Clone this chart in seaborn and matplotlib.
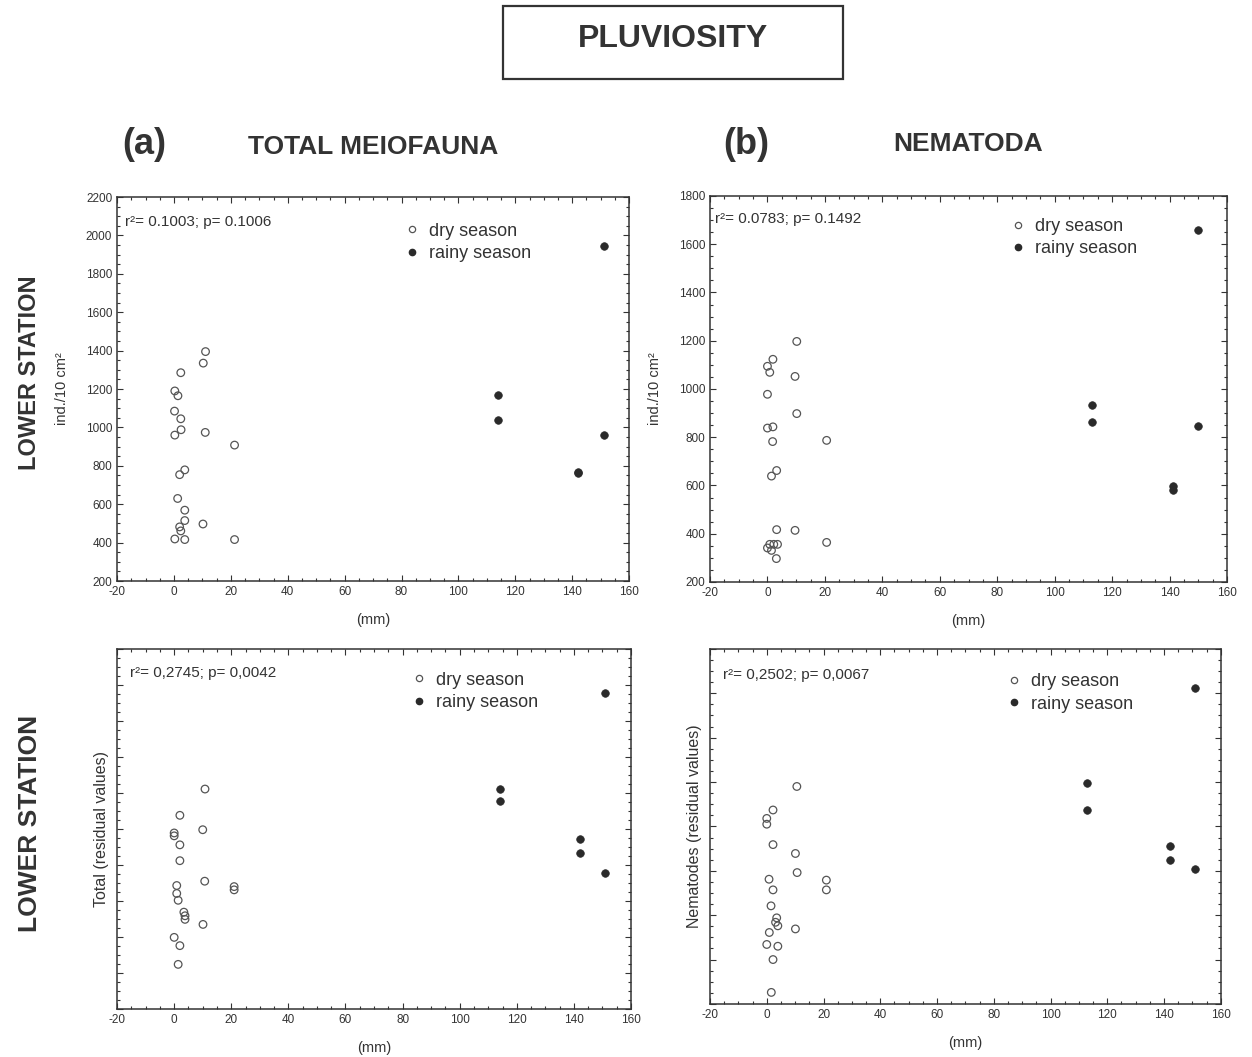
import numpy as np
import pandas as pd
import matplotlib
matplotlib.use("Agg")
import matplotlib.pyplot as plt
from matplotlib.lines import Line2D
from matplotlib.patches import Rectangle
from matplotlib.ticker import MultipleLocator, AutoMinorLocator
import seaborn as sns

# Data (x = rainfall in mm)
# (a) total meiofauna, lower station
tot_dry_x = [11.1, 10.3, 2.4, 0.3, 1.4, 0.2, 2.4, 2.5, 0.3, 11.0, 21.3,
             3.8, 2.0, 1.3, 3.8, 3.8, 2.0, 2.4, 10.2, 0.3, 3.8, 21.3]
tot_dry_y = [1395, 1335, 1285, 1190, 1165, 1085, 1045, 988, 960, 974, 908,
             779, 754, 630, 569, 515, 482, 461, 497, 419, 416, 416]
tot_rain_x = [151, 114, 114, 151, 142, 142]
tot_rain_y = [1945, 1170, 1037, 960, 766, 764]

# (b) nematoda, lower station
nem_dry_x = [10.2, 1.9, 0.0, 0.8, 9.6, 0.0, 10.2, 0.0, 1.9, 1.8, 20.6,
             3.2, 1.4, 3.2, 9.6, 20.6, 0.0, 0.8, 1.4, 2.2, 3.5, 3.1]
nem_dry_y = [1197, 1123, 1094, 1069, 1052, 978, 898, 838, 843, 782, 787,
             662, 639, 417, 414, 364, 341, 356, 331, 356, 356, 297]
nem_rain_x = [150, 113, 113, 150, 141, 141]
nem_rain_y = [1659, 934, 862, 847, 599, 580]

# residuals (no scale printed on the original)
totres_dry_x = [10.8, 2.0, 0.0, 0.0, 10.0, 2.0, 2.0, 0.9, 0.9, 1.4, 10.7,
                21.0, 21.0, 3.4, 3.8, 3.8, 10.1, 0.0, 2.0, 1.4]
totres_dry_y = [111, 38, -11, -19, -2, -44, -88, -157, -179, -198, -145,
                -160, -169, -231, -241, -251, -265, -301, -324, -376]
totres_rain_x = [151, 114, 114, 142, 142, 151]
totres_rain_y = [377, 110, 78, -27, -68, -122]

nemres_dry_x = [10.6, 2.2, 0.0, 0.0, 2.2, 10.1, 10.7, 0.8, 2.2, 21.0, 21.0,
                1.5, 3.5, 3.9, 3.1, 10.1, 0.9, 0.0, 3.9, 2.2, 1.6]
nemres_dry_y = [90, 37, 18, 5, -41, -61, -104, -119, -143, -121, -143,
                -179, -206, -224, -216, -231, -239, -266, -270, -300, -374]
nemres_rain_x = [151, 113, 113, 142, 142, 151]
nemres_rain_y = [312, 98, 37, -44, -76, -95]

stats = ["r²= 0.1003; p= 0.1006", "r²= 0.0783; p= 0.1492",
         "r²= 0,2745; p= 0,0042", "r²= 0,2502; p= 0,0067"]
ylabels = ["ind./10 cm²", "ind./10 cm²",
           "Total (residual values)", "Nematodes (residual values)"]

sns.set_style("ticks")
plt.rcParams['font.family'] = ['Liberation Sans', 'DejaVu Sans']
plt.rcParams['axes.unicode_minus'] = False
ink = '#333333'

fig = plt.figure(figsize=(12.52, 10.57), dpi=100)

positions = [
    [0.0935, 0.4503, 0.409, 0.3633],
    [0.5671, 0.4494, 0.413, 0.3652],
    [0.0935, 0.0454, 0.4105, 0.3406],
    [0.5671, 0.0502, 0.408, 0.3359],
]
panels = [
    (tot_dry_x, tot_dry_y, tot_rain_x, tot_rain_y),
    (nem_dry_x, nem_dry_y, nem_rain_x, nem_rain_y),
    (totres_dry_x, totres_dry_y, totres_rain_x, totres_rain_y),
    (nemres_dry_x, nemres_dry_y, nemres_rain_x, nemres_rain_y),
]
ylims = [(200, 2200), (200, 1800), (-500, 500), (-400, 400)]
stat_pos = [(0.016, 0.935), (0.01, 0.94), (0.025, 0.933), (0.025, 0.927)]
leg_pos = [(0.54, 0.952), (0.56, 0.962), (0.553, 0.957), (0.56, 0.952)]
ylab_pad = [12, 12, 2.5, 2.5]

for i, (pos, (dx, dy, rx, ry)) in enumerate(zip(positions, panels)):
    ax = fig.add_axes(pos)
    dry = pd.DataFrame({"mm": dx, "val": dy})
    rain = pd.DataFrame({"mm": rx, "val": ry})
    sns.scatterplot(data=dry, x="mm", y="val", ax=ax, s=30, marker="o",
                    facecolor="none", edgecolor="#555555", linewidth=0.9)
    sns.scatterplot(data=rain, x="mm", y="val", ax=ax, s=30, marker="o",
                    color="#2a2a2a", edgecolor="#2a2a2a", linewidth=0.5)
    ax.set_xlim(-20, 160)
    ax.set_ylim(*ylims[i])
    ax.xaxis.set_major_locator(MultipleLocator(20))
    ax.xaxis.set_minor_locator(AutoMinorLocator(4))
    ax.yaxis.set_major_locator(MultipleLocator(200 if i < 2 else 100))
    ax.yaxis.set_minor_locator(AutoMinorLocator(4))
    ax.tick_params(which="both", direction="in", top=True, right=True,
                   colors=ink, labelsize=8.5, width=0.8)
    ax.tick_params(which="major", length=4)
    ax.tick_params(which="minor", length=2)
    if i >= 2:
        ax.set_yticklabels([])
    for s in ax.spines.values():
        s.set_color(ink)
        s.set_linewidth(1.1)
    ax.set_xlabel("(mm)", fontsize=10.5, color=ink, labelpad=11)
    ax.set_ylabel(ylabels[i], fontsize=10.5 if i < 2 else 11.5, color=ink,
                  labelpad=ylab_pad[i])
    ax.text(stat_pos[i][0], stat_pos[i][1], stats[i], transform=ax.transAxes,
            fontsize=11, color=ink, va="center", ha="left")
    handles = [
        Line2D([], [], marker="o", ls="", markersize=4.5, markerfacecolor="none",
               markeredgecolor="#555555", markeredgewidth=0.9),
        Line2D([], [], marker="o", ls="", markersize=4.5, color="#2a2a2a"),
    ]
    ax.legend(handles, ["dry season", "rainy season"], loc="upper left",
              bbox_to_anchor=leg_pos[i], frameon=False, fontsize=13,
              handletextpad=0.35, labelspacing=0.3, borderaxespad=0,
              labelcolor=ink, handlelength=1.2)

# title box
fig.patches.append(Rectangle((503 / 1252, 1 - 79 / 1057), 340 / 1252, 73 / 1057,
                             transform=fig.transFigure, facecolor="white",
                             edgecolor=ink, linewidth=1.6))
fig.text(673 / 1252, 1 - 39 / 1057, "PLUVIOSITY", fontsize=23, fontweight="bold",
         color=ink, ha="center", va="center")

# headings
fig.text(144 / 1252, 1 - 145 / 1057, "(a)", fontsize=26, fontweight="bold",
         color=ink, ha="center", va="center")
fig.text(373 / 1252, 1 - 147 / 1057, "TOTAL MEIOFAUNA", fontsize=19,
         fontweight="bold", color=ink, ha="center", va="center")
fig.text(746 / 1252, 1 - 145 / 1057, "(b)", fontsize=26, fontweight="bold",
         color=ink, ha="center", va="center")
fig.text(968 / 1252, 1 - 144 / 1057, "NEMATODA", fontsize=19,
         fontweight="bold", color=ink, ha="center", va="center")
fig.text(30 / 1252, 1 - 373 / 1057, "LOWER STATION", fontsize=17,
         fontweight="bold", color=ink, ha="center", va="center", rotation=90)
fig.text(30 / 1252, 1 - 823 / 1057, "LOWER STATION", fontsize=19,
         fontweight="bold", color=ink, ha="center", va="center", rotation=90)

fig.savefig("out.png", dpi=100, facecolor="white")
